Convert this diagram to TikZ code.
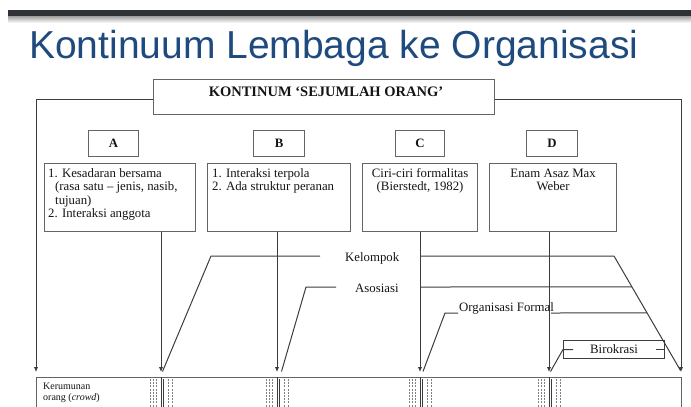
\documentclass[tikz,border=0pt]{standalone}
\usepackage{fontspec}
\setmainfont{Liberation Serif}
\newfontfamily\titlefont{Liberation Sans}
\usetikzlibrary{arrows.meta,calc}
\definecolor{titleblue}{RGB}{31,74,126}
\definecolor{barclr}{RGB}{46,49,53}
\definecolor{linegray}{RGB}{60,60,60}
\definecolor{boxgray}{RGB}{100,100,100}
\begin{document}
\begin{tikzpicture}[x=1pt,y=-1pt,
  box/.style={draw=boxgray,line width=1.2pt,inner sep=0,anchor=north west},
  txt/.style={inner sep=0,font=\fontsize{12.8}{13.6}\selectfont,text=black!92},
  lettertxt/.style={font=\bfseries\fontsize{12.8}{13.6}\selectfont,text=black!92},
  ln/.style={draw=linegray,line width=1pt},
  arr/.style={ln,-{Latex[length=5pt,width=4.5pt]}},
  dsh/.style={draw=gray,line width=0.8pt,dash pattern=on 2pt off 1.2pt},
]
\useasboundingbox (0,0) rectangle (691,407);

% header bar with its soft shadow
\fill[barclr] (8,10) rectangle (691,16.5);
\shade[top color=black!35,bottom color=white] (8,16.5) rectangle (691,23);

% slide title
\node[anchor=base west,inner sep=0,text=titleblue,
      font=\titlefont\fontsize{39}{40}\selectfont] (title) at (29,58)
      {Kontinuum Lembaga ke Organisasi};

% heading box
\node[box,minimum width=341pt,minimum height=35pt] (top) at (153,79) {};
\node[txt,font=\bfseries\fontsize{14.5}{15}\selectfont,anchor=base] (toplbl) at (326,96)
      {KONTINUM ‘SEJUMLAH ORANG’};

% letter boxes
\node[box,minimum width=50pt,minimum height=26pt] (ltA) at (88,130) {};
\node[box,minimum width=51pt,minimum height=26pt] (ltB) at (253,130) {};
\node[box,minimum width=49pt,minimum height=26pt] (ltC) at (395,130) {};
\node[box,minimum width=51pt,minimum height=26pt] (ltD) at (526,130) {};
\node[lettertxt] (lA) at (ltA.center) {A};
\node[lettertxt] (lB) at (ltB.center) {B};
\node[lettertxt] (lC) at (ltC.center) {C};
\node[lettertxt] (lD) at (ltD.center) {D};

% description boxes
\node[box,minimum width=151pt,minimum height=68pt] (boxA) at (44,163) {};
\node[box,minimum width=143pt,minimum height=68pt] (boxB) at (207,163) {};
\node[box,minimum width=115pt,minimum height=68pt] (boxC) at (362,163) {};
\node[box,minimum width=127pt,minimum height=68pt] (boxD) at (489,163) {};

\node[txt,anchor=base west] (a1) at (48,177) {1. Kesadaran bersama};
\node[txt,anchor=base west] (a2) at (55,190.6) {(rasa satu -- jenis, nasib,};
\node[txt,anchor=base west] (a3) at (55,204.2) {tujuan)};
\node[txt,anchor=base west] (a4) at (48,217.8) {2. Interaksi anggota};

\node[txt,anchor=base west] (b1) at (212,177) {1. Interaksi terpola};
\node[txt,anchor=base west] (b2) at (212,190.6) {2. Ada struktur peranan};

\node[txt,anchor=base] (c1) at (boxC.north |- 0,177) {Ciri-ciri formalitas};
\node[txt,anchor=base] (c2) at (boxC.north |- 0,190.6) {(Bierstedt, 1982)};

\node[txt,anchor=base] (d1) at (boxD.north |- 0,177) {Enam Asaz Max};
\node[txt,anchor=base] (d2) at (boxD.north |- 0,190.6) {Weber};

% arrow tips above the continuum bar
\coordinate (tipL) at (36,372);
\coordinate (tipA) at (161,372);
\coordinate (tipB) at (277,372);
\coordinate (tipC) at (420,372);
\coordinate (tipD) at (549,372);
\coordinate (tipR) at (681,372);

% outer connectors from the heading box
\draw[arr] ($(top.north west)+(0,20)$) -| (tipL);
\draw[arr] ($(top.north east)+(0,20)$) -| (tipR);

% connectors from the description boxes
\draw[arr] (boxA.south -| tipA) -- (tipA);
\draw[arr] (boxB.south -| tipB) -- (tipB);
\draw[arr] (boxC.south -| tipC) -- (tipC);
\draw[arr] (boxD.south -| tipD) -- (tipD);

% stage labels
\node[txt,anchor=base west] (kel) at (345,261) {Kelompok};
\node[txt,anchor=base west] (aso) at (355,292) {Asosiasi};
\node[txt,anchor=base west] (orgf) at (459,311) {Organisasi Formal};
\node[box,draw=linegray,line width=1pt,minimum width=101pt,minimum height=18pt] (biro) at (563,340) {};
\node[txt] (birol) at (biro.center) {Birokrasi};

% Kelompok range
\coordinate (kelA) at (320,256);
\coordinate (kelB) at (211,256);
\coordinate (kelC) at (614,256);
\draw[ln] (kelA) -- (kelB) -- ($(tipA)+(1.5,-0.5)$);
\draw[ln] (tipC |- kelC) -- (kelC) -- ($(tipR)+(-0.5,-1.5)$);

% Asosiasi range
\coordinate (asoA) at (336,287);
\coordinate (asoB) at (306,287);
\draw[ln] (asoA) -- (asoB) -- ($(tipB)+(4.5,-0.5)$);
\draw[ln] (tipC |- asoA) -- ($(kelC)!0.267!(tipR)$);

% Organisasi Formal range
\coordinate (ofA) at (458,313);
\coordinate (ofB) at (445,313);
\coordinate (ofR) at (551,313);
\draw[ln] (ofA) -- (ofB) -- ($(tipC)+(3,-0.5)$);
\draw[ln] (ofR) -- ($(kelC)!0.491!(tipR)$);

% Birokrasi range
\draw[ln] ($(biro.west)+(10,0)$) -- (biro.west) -- ($(tipD)+(1.5,-0.5)$);
\draw[ln] ($(biro.east)+(-9,0)$) -- (biro.east);

% continuum bar
\begin{scope}
  \clip (0,0) rectangle (691,407);
  \node[box,line width=1pt,minimum width=645pt,minimum height=50pt] (crowdbox) at (36,377) {};
  \foreach \x in {161,277,420,549} {
    \foreach \d in {-10.5,-7.5,-4.5,7,11}
      \draw[dsh] (\x+\d,379) -- (\x+\d,410);
    \draw[ln,line width=0.8pt] (\x,377) -- (\x,410);
    \draw[ln,line width=0.7pt] (\x+2.5,379) -- (\x+2.5,410);
  }
\end{scope}
\node[txt,font=\fontsize{10}{10.5}\selectfont,anchor=base west] (crowd1) at (43,389) {Kerumunan};
\node[txt,font=\fontsize{10}{10.5}\selectfont,anchor=base west] (crowd2) at (43,400) {orang (\textit{crowd})};

\end{tikzpicture}
\end{document}
